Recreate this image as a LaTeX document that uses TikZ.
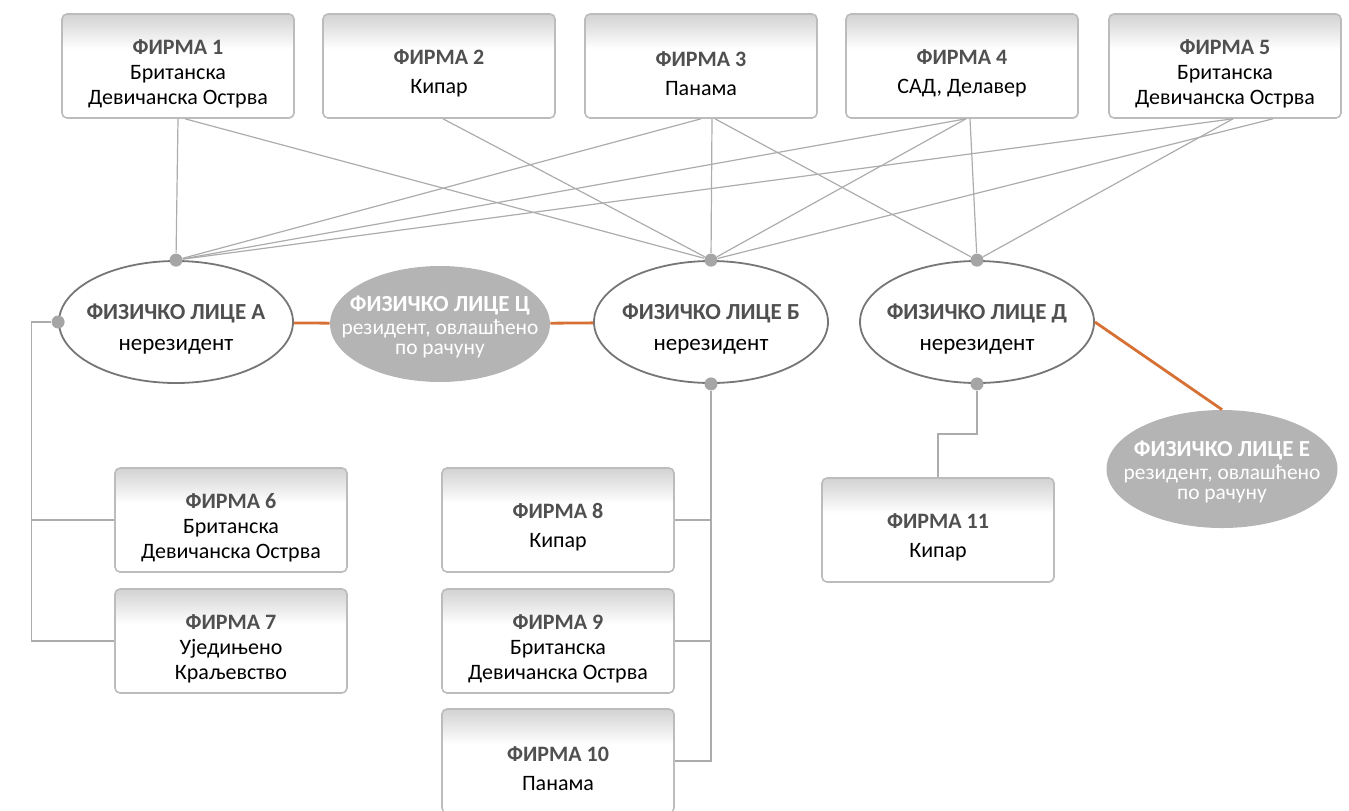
\documentclass[tikz,border=0pt]{standalone}
\usepackage{fontspec}
\setmainfont{Carlito}
\usepackage{xcolor}
\usepackage{tikz}
\usetikzlibrary{shapes.geometric,calc}
\definecolor{linegray}{RGB}{172,172,172}
\definecolor{dotgray}{RGB}{165,165,165}
\definecolor{boxline}{RGB}{188,188,188}
\definecolor{boxtop}{RGB}{210,210,210}
\definecolor{ringgray}{RGB}{118,118,118}
\definecolor{residentgray}{RGB}{180,180,180}
\definecolor{titlegray}{RGB}{80,80,80}
\definecolor{tieorange}{RGB}{214,112,52}
\colorlet{ltitle}{titlegray}
\pgfdeclareverticalshading{firmtop}{100bp}{color(0bp)=(white); color(58bp)=(white); color(75bp)=(boxtop); color(100bp)=(boxtop)}
\newcommand{\firma}[1]{{\rule{0pt}{15pt}\bfseries\color{titlegray}ФИРМА #1}}
\newcommand{\licedrop}{5pt}
\newcommand{\lice}[3][0pt]{\raisebox{-\licedrop}[0pt][0pt]{\makebox[0pt]{\begin{tabular}{@{}c@{}}{\bfseries\fontsize{11.5}{13}\selectfont\color{ltitle}ФИЗИЧКО ЛИЦЕ #2}\\[#1]#3\end{tabular}}}}

\begin{document}
\begin{tikzpicture}[x=0.5pt, y=-0.5pt,
        firm/.style={rectangle, draw=boxline, line width=0.8pt, rounded corners=2.5pt, shade, shading=firmtop,
            minimum width=116pt, minimum height=52pt, align=center, font=\fontsize{11}{12.5}\selectfont},
        person/.style={ellipse, draw=ringgray, line width=0.9pt, fill=white, minimum width=117pt, minimum height=61pt,
            inner sep=0pt, font=\fontsize{11.5}{13}\selectfont, execute at begin node={\def\licedrop{6.7pt}}},
        resident/.style={ellipse, fill=residentgray, text=white, minimum width=110pt, minimum height=58pt,
            inner sep=0pt, font=\fontsize{10.7}{10}\selectfont,
            execute at begin node={\colorlet{ltitle}{white}\def\licedrop{5pt}}},
        dot/.style={circle, fill=dotgray, inner sep=0pt, minimum size=6.5pt},
        link/.style={draw=linegray, line width=0.6pt},
        tie/.style={draw=tieorange, line width=1.4pt}
    ]
        \useasboundingbox (0,0) rectangle (1349,810);

        % firms on top
        \node[firm] (f1) at (178,66) {\firma{1}\\Британска\\Девичанска Острва};
        \node[firm] (f2) at (439,66) {\firma{2}\\[2pt]Кипар};
        \node[firm] (f3) at (701,66) {\firma{3}\\[2pt]Панама};
        \node[firm] (f4) at (962,66) {\firma{4}\\[2pt]САД, Делавер};
        \node[firm] (f5) at (1225,66) {\firma{5}\\Британска\\Девичанска Острва};

        % persons
        \node[person] (A) at (176,322) {\lice[2.5pt]{А}{нерезидент}};
        \node[resident] (C) at (440,324) {\lice[1pt]{Ц}{резидент, овлашћено\\по рачуну}};
        \node[person] (B) at (711,322) {\lice[2.5pt]{Б}{нерезидент}};
        \node[person] (D) at (977,322) {\lice[2.5pt]{Д}{нерезидент}};
        \node[resident, minimum width=115.5pt, minimum height=59pt] (E) at (1222,469) {\lice[1pt]{Е}{резидент, овлашћено\\по рачуну}};

        % firms below
        \node[firm] (f6) at (231,520) {\firma{6}\\Британска\\Девичанска Острва};
        \node[firm] (f7) at (231,641) {\firma{7}\\Уједињено\\Краљевство};
        \node[firm] (f8) at (558,520) {\firma{8}\\[2pt]Кипар};
        \node[firm] (f9) at (558,641) {\firma{9}\\Британска\\Девичанска Острва};
        \node[firm] (f10) at (558,761) {\firma{10}\\[2pt]Панама};
        \node[firm] (f11) at (938,530) {\firma{11}\\[2pt]Кипар};

        \node[dot] (Atop) at (A.north) {};
        \node[dot] (Aleft) at (A.west) {};
        \node[dot] (Btop) at (B.north) {};
        \node[dot] (Bbot) at (B.south) {};
        \node[dot] (Dtop) at (D.north) {};
        \node[dot] (Dbot) at (D.south) {};

        \draw[link] (f1.south) -- (Atop);
        \draw[link] ([xshift=3.5pt]f1.south) -- (Btop);
        \draw[link] ([xshift=2pt]f2.south) -- (Btop);
        \draw[link] (f3.south) -- (Atop);
        \draw[link] ([xshift=5.5pt]f3.south) -- (Btop);
        \draw[link] ([xshift=7pt]f3.south) -- (Dtop);
        \draw[link] ([xshift=2pt]f4.south) -- (Atop);
        \draw[link] ([xshift=2pt]f4.south) -- (Btop);
        \draw[link] ([xshift=4pt]f4.south) -- (Dtop);
        \draw[link] ([xshift=4pt]f5.south) -- (Atop);
        \draw[link] ([xshift=24pt]f5.south) -- (Btop);
        \draw[link] ([xshift=4pt]f5.south) -- (Dtop);

        \draw[link] (Aleft) -- ++(-27,0) coordinate (abend) |- (f7.west);
        \draw[link] (f6.west) -- (f6.west -| abend);
        \draw[link] (Bbot) |- (f10.east);
        \draw[link] (f8.east) -- (f8.east -| Bbot);
        \draw[link] (f9.east) -- (f9.east -| Bbot);
        \draw[link] (Dbot) -- ++(0,50) -| (f11.north);

        \draw[tie] (A) -- (C);
        \draw[tie] (C) -- (B);
        \draw[tie] (D.east) -- (E.north);
    \end{tikzpicture}
\end{document}
